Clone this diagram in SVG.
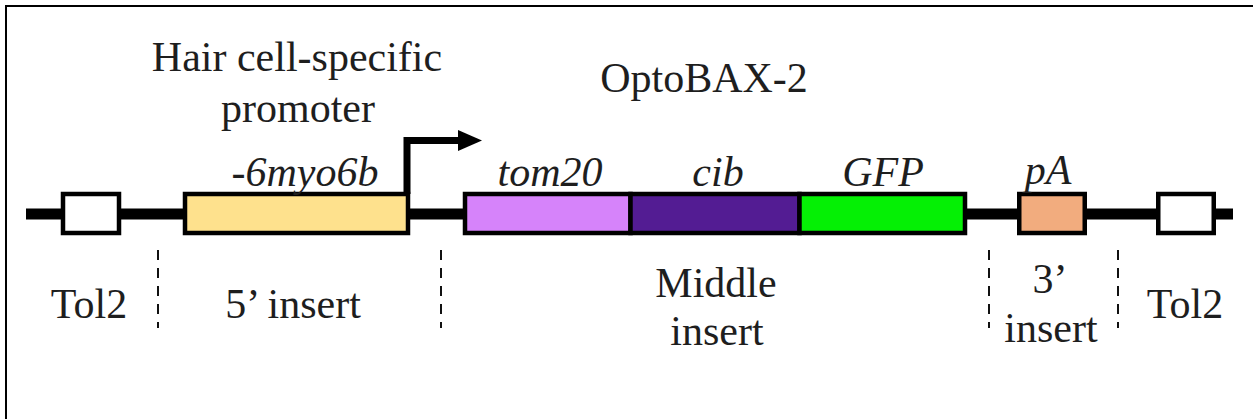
<svg xmlns="http://www.w3.org/2000/svg" width="1253" height="419" viewBox="0 0 1253 419">
  <style>
    .lbl { font-family: "Liberation Serif", "Times New Roman", serif; font-size: 42px; fill: #1e1e1e; text-anchor: middle; }
    .gene { font-style: italic; }
    .box { stroke: #000; stroke-width: 4.5; }
    .div { stroke: #111; stroke-width: 2; stroke-dasharray: 10 8; fill: none; }
  </style>
  <defs>
    <marker id="tss-head" viewBox="0 0 24 21" refX="2" refY="10.5" markerWidth="24" markerHeight="21" markerUnits="userSpaceOnUse" orient="auto">
      <polygon points="0,0 24,10.5 0,21" fill="#000"/>
    </marker>
  </defs>

  <rect width="1253" height="419" fill="#fff"/>
  <!-- frame (top and left edges) -->
  <path d="M6,419 V6 H1253" fill="none" stroke="#000" stroke-width="2"/>

  <!-- plasmid backbone and promoter arrow -->
  <g id="connectors">
    <line x1="26" y1="214" x2="1233" y2="214" stroke="#000" stroke-width="11"/>
    <path d="M407,194 V140.5 H460" fill="none" stroke="#000" stroke-width="7" marker-end="url(#tss-head)"/>
  </g>

  <g id="tol2-left">
    <rect class="box" x="63" y="194" width="56" height="39" fill="#fff"/>
  </g>
  <g id="promoter-6myo6b">
    <rect class="box" x="185" y="194" width="223" height="39" fill="#fee18d"/>
    <text class="lbl gene" x="305" y="186">-6myo6b</text>
  </g>
  <g id="tom20">
    <rect class="box" x="465" y="194" width="165.5" height="39" fill="#d683fa"/>
    <text class="lbl gene" x="550" y="186">tom20</text>
  </g>
  <g id="cib">
    <rect class="box" x="630.5" y="194" width="169" height="39" fill="#531c93"/>
    <text class="lbl gene" x="718" y="186">cib</text>
  </g>
  <g id="gfp">
    <rect class="box" x="799.5" y="194" width="165.5" height="39" fill="#05f005"/>
    <text class="lbl gene" x="883" y="186">GFP</text>
  </g>
  <g id="pA">
    <rect class="box" x="1019.25" y="194" width="65.5" height="39" fill="#f2ac7e"/>
    <text class="lbl gene" x="1048" y="184">pA</text>
  </g>
  <g id="tol2-right">
    <rect class="box" x="1158.25" y="194" width="55.5" height="39" fill="#fff"/>
  </g>

  <!-- headings -->
  <g id="promoter-label">
    <text class="lbl" x="297" y="71">Hair cell-specific</text>
    <text class="lbl" x="298" y="122">promoter</text>
  </g>
  <g id="construct-label">
    <text class="lbl" x="704" y="92">OptoBAX-2</text>
  </g>

  <!-- segment boundaries -->
  <g id="boundaries">
    <line class="div" x1="158" y1="250" x2="158" y2="328"/>
    <line class="div" x1="441" y1="250" x2="441" y2="328"/>
    <line class="div" x1="989" y1="250" x2="989" y2="328"/>
    <line class="div" x1="1118" y1="250" x2="1118" y2="328"/>
  </g>

  <!-- segment names -->
  <g id="segment-labels">
    <text class="lbl" x="89" y="318">Tol2</text>
    <text class="lbl" x="293" y="318">5’ insert</text>
    <text class="lbl" x="716" y="297">Middle</text>
    <text class="lbl" x="717" y="345">insert</text>
    <text class="lbl" x="1050" y="293">3’</text>
    <text class="lbl" x="1051" y="342">insert</text>
    <text class="lbl" x="1185" y="318">Tol2</text>
  </g>
</svg>
